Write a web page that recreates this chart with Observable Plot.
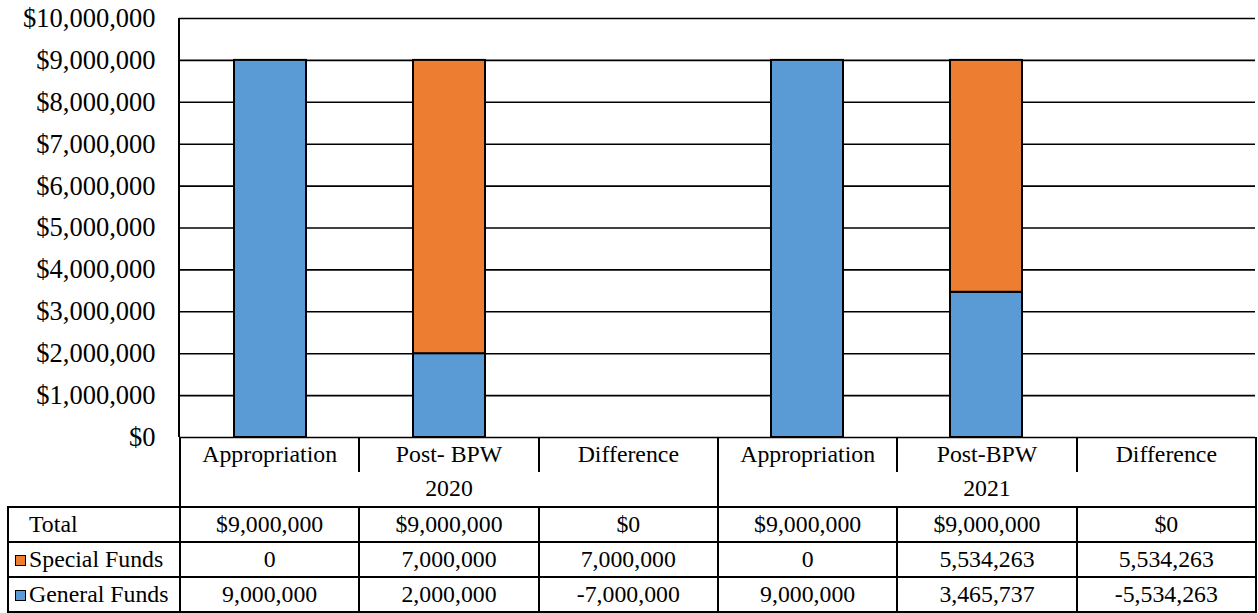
<!DOCTYPE html>
<html>
<head>
<meta charset="utf-8">
<script src="https://cdn.jsdelivr.net/npm/d3@7"></script>
<script src="https://cdn.jsdelivr.net/npm/@observablehq/plot@0.6"></script>
<style>
  body { margin: 0; background: #fff; }
  #wrap { position: relative; width: 1258px; height: 613px; overflow: hidden;
          font-family: 'Liberation Serif', 'Times New Roman', serif; color: #000; }
  #chart { position: absolute; left: 0; top: 0; }
  #tbl { position: absolute; left: 7px; top: 437px; border-collapse: collapse;
         table-layout: fixed; font-size: 23.8px; width: 1248px;
         font-family: 'Liberation Serif', 'Times New Roman', serif; }
  #tbl td { padding: 0; text-align: center; line-height: 1; white-space: nowrap;
            border: 2px solid #000; }
  #tbl tr { height: 35px; }
  #tbl td.blank { border: none; }
  #tbl td.cat { border-top: none; border-bottom: none; border-right: none; }
  #tbl td.cat.last { border-right: 2px solid #000; }
  #tbl td.yr { border-top: none; }
  #tbl td.lbl { text-align: left; padding-left: 6px; }
  .key { display: inline-block; width: 9px; height: 9px; border: 1.5px solid #000;
         margin-right: 3px; vertical-align: 1px; }
  .key.none { border-color: transparent; }
</style>
</head>
<body>
<div id="wrap">
  <div id="chart"></div>
  <table id="tbl"></table>
</div>
<script>
// ---- data ----
const years = ["2020", "2020", "2020", "2021", "2021", "2021"];
const categories = ["Appropriation", "Post- BPW", "Difference", "Appropriation", "Post-BPW", "Difference"];
const specialFunds = [0, 7000000, 7000000, 0, 5534263, 5534263];
const generalFunds = [9000000, 2000000, -7000000, 9000000, 3465737, -5534263];
const totals = [9000000, 9000000, 0, 9000000, 9000000, 0];
const seriesNames = ["General Funds", "Special Funds"];
const seriesColors = ["#5B9BD5", "#ED7D31"];
const yTicks = [0, 1000000, 2000000, 3000000, 4000000, 5000000, 6000000, 7000000, 8000000, 9000000, 10000000];

// ---- derived ----
const keys = categories.map((c, i) => years[i] + "|" + i);
const barData = [];
keys.forEach((k, i) => {
  if (categories[i] !== "Difference") barData.push({key: k, series: "General Funds", value: generalFunds[i]});
});
keys.forEach((k, i) => {
  if (categories[i] !== "Difference") barData.push({key: k, series: "Special Funds", value: specialFunds[i]});
});
const num = v => v.toLocaleString("en-US");
const money = v => "$" + v.toLocaleString("en-US");

const leftLine = (index, scales, values, dims) => {
  const l = d3.create("svg:line")
    .attr("x1", dims.marginLeft).attr("x2", dims.marginLeft)
    .attr("y1", scales.y(yTicks[yTicks.length - 1])).attr("y2", scales.y(0))
    .attr("stroke", "#000").attr("stroke-width", 2);
  return l.node();
};

const chart = Plot.plot({
  width: 1258,
  height: 440,
  marginLeft: 179,
  marginRight: 3,
  marginTop: 18,
  marginBottom: 3,
  x: {domain: keys, paddingInner: 0.6, paddingOuter: 0.3, axis: null},
  y: {domain: [0, 10000000], axis: null},
  color: {domain: seriesNames, range: seriesColors},
  style: {fontFamily: "'Liberation Serif', 'Times New Roman', serif", fontSize: "26.5px", color: "#000", background: "transparent", overflow: "visible"},
  marks: [
    Plot.ruleY(yTicks, {stroke: "#000", strokeWidth: 1.6}),
    Plot.barY(barData, {x: "key", y: "value", fill: "series", stroke: "#000", strokeWidth: 2}),
    Plot.axisY({ticks: yTicks, tickSize: 0, tickPadding: 24, tickFormat: money, fontSize: 26.5, label: null}),
    leftLine
  ]
});
document.getElementById("chart").appendChild(chart);

// ---- data table ----
const tbl = d3.select("#tbl");
const cg = tbl.append("colgroup");
cg.append("col").style("width", "172px");
keys.forEach(() => cg.append("col").style("width", "179.33px"));

const r1 = tbl.append("tr");
r1.append("td").attr("class", "blank");
categories.forEach((c, i) => r1.append("td").attr("class", "cat" + (i === categories.length - 1 ? " last" : "")).text(c));

const r2 = tbl.append("tr");
r2.append("td").attr("class", "blank");
const uniqYears = Array.from(new Set(years));
uniqYears.forEach(y => r2.append("td").attr("class", "yr").attr("colspan", years.filter(v => v === y).length).text(y));

const rows = [
  {label: "Total", key: null, vals: totals, fmt: money},
  {label: "Special Funds", key: seriesColors[1], vals: specialFunds, fmt: num},
  {label: "General Funds", key: seriesColors[0], vals: generalFunds, fmt: num}
];
rows.forEach(r => {
  const tr = tbl.append("tr");
  const lab = tr.append("td").attr("class", "lbl");
  const k = lab.append("span").attr("class", "key" + (r.key ? "" : " none"));
  if (r.key) k.style("background", r.key);
  lab.append("span").text(r.label);
  r.vals.forEach(v => tr.append("td").text(r.fmt(v)));
});
</script>
</body>
</html>
